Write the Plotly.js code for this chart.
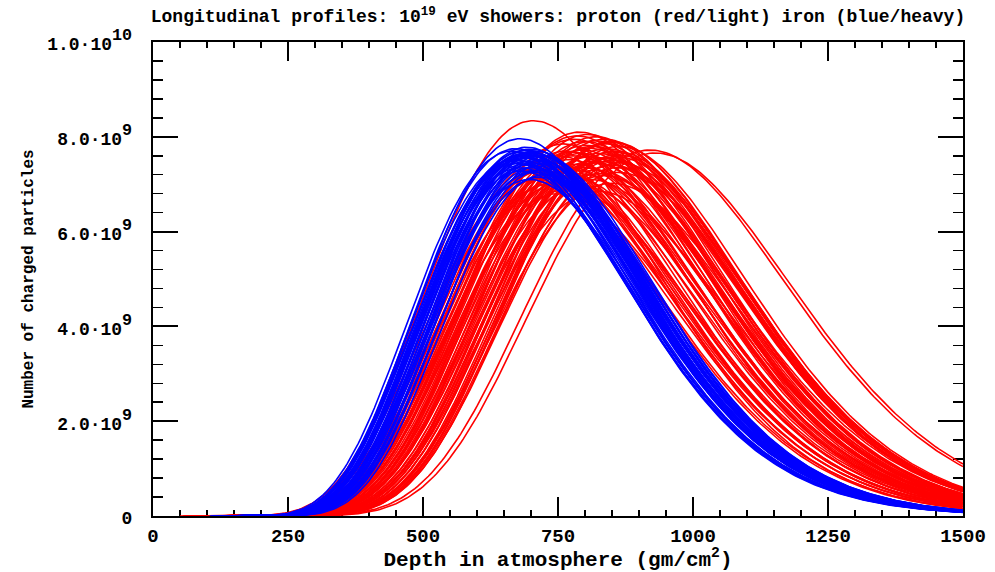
<!DOCTYPE html>
<html>
<head>
<meta charset="utf-8">
<script src="https://cdn.plot.ly/plotly-3.0.1.min.js"></script>
<style>
  html, body { margin: 0; padding: 0; background: #ffffff; }
  #chart { width: 995px; height: 572px; }
</style>
</head>
<body>
<div id="chart"></div>
<script>
// ---- Data (per-shower Gaisser-Hillas parameters) ----
// Depth of shower maximum (g/cm^2), size at maximum (units of 1e9 particles),
// and first-interaction depth (g/cm^2), where each profile starts.
const protonXmax = [704, 920, 930, 790, 805, 820, 780, 835, 800, 850,
                    760, 815, 862, 840, 795, 856, 775, 825, 860, 750,
                    810, 845, 770, 852, 830, 740, 785, 850, 765, 800,
                    730, 820, 755, 862, 790, 745, 835, 775, 720, 810,
                    760, 850, 735, 795, 770, 825, 750, 780, 815, 858,
                    842, 808, 725, 860, 785, 712, 864, 848, 765, 826,
                    738, 792, 818, 756, 832, 803, 778, 852, 746, 812];
const protonNmax = [8.34, 7.72, 7.66, 8.10, 8.05, 8.00, 7.95, 7.95, 7.90, 7.88,
                    7.85, 7.80, 7.80, 7.75, 7.72, 7.70, 7.68, 7.65, 7.62, 7.60,
                    7.58, 7.55, 7.52, 7.50, 7.48, 7.45, 7.42, 7.40, 7.38, 7.35,
                    7.32, 7.30, 7.28, 7.25, 7.22, 7.20, 7.18, 7.15, 7.12, 7.10,
                    7.05, 7.02, 7.00, 6.95, 6.90, 6.85, 6.80, 7.60, 7.45, 7.58,
                    7.85, 7.76, 7.50, 7.35, 8.02, 7.25, 7.45, 7.90, 7.70, 7.22,
                    7.40, 7.65, 7.92, 7.15, 7.55, 7.82, 7.30, 7.68, 7.05, 7.48];
const protonX0   = [60, 90, 100, 80, 90, 95, 75, 100, 85, 110,
                    70, 95, 130, 105, 85, 125, 80, 100, 130, 70,
                    90, 108, 75, 125, 100, 65, 82, 120, 74, 88,
                    62, 96, 72, 132, 84, 68, 102, 78, 55, 92,
                    76, 110, 64, 86, 80, 98, 70, 82, 94, 128,
                    106, 90, 58, 130, 80, 50, 135, 115, 74, 100,
                    66, 86, 96, 72, 104, 90, 80, 118, 68, 94];

const ironXmax = [680, 665, 672, 690, 700, 684, 695, 710, 676, 705,
                  688, 715, 698, 720, 692, 708, 682, 725, 670, 702,
                  694, 712, 686, 678, 718, 700, 690, 706, 674, 696,
                  716, 683, 709, 697, 688, 704, 722, 680, 692, 711];
const ironNmax = [7.96, 7.70, 7.75, 7.72, 7.68, 7.60, 7.55, 7.62, 7.50, 7.45,
                  7.42, 7.50, 7.35, 7.30, 7.66, 7.70, 7.28, 7.20, 7.52, 7.58,
                  7.40, 7.38, 7.64, 7.58, 7.60, 7.74, 7.48, 7.25, 7.44, 7.62,
                  7.15, 7.68, 7.52, 7.10, 7.56, 7.66, 7.42, 7.35, 7.78, 7.30];
const ironX0   = [110, 105, 115, 120, 125, 118, 130, 140, 112, 135,
                  122, 145, 128, 150, 120, 138, 116, 160, 108, 132,
                  126, 142, 119, 114, 148, 130, 124, 136, 112, 128,
                  150, 117, 140, 134, 121, 133, 155, 115, 123, 144];

// Axis tick labels
const xTickVals = [0, 250, 500, 750, 1000, 1250, 1500];
const yTickVals = [0, 2e9, 4e9, 6e9, 8e9, 1e10];
const BASE = s => '<span style="font-size:18px">' + s + '</span>';
const yTickText = [BASE('0'), BASE('2.0\u00b710') + '<sup>9</sup>', BASE('4.0\u00b710') + '<sup>9</sup>',
                   BASE('6.0\u00b710') + '<sup>9</sup>', BASE('8.0\u00b710') + '<sup>9</sup>',
                   BASE('1.0\u00b710') + '<sup>10</sup>'];

// ---- Gaisser-Hillas longitudinal profile ----
const LAMBDA = 70;      // g/cm^2
const STEP = 5;         // sampling of depth
const XEND = 1500;

function profile(xmax, nmax, x0) {
  const xs = [], ys = [];
  const a = (xmax - x0) / LAMBDA;
  for (let x = x0; x <= XEND + 1e-9; x += STEP) {
    const t = (x - x0) / (xmax - x0);
    const n = t <= 0 ? 0 : nmax * 1e9 * Math.pow(t, a) * Math.exp((xmax - x) / LAMBDA);
    xs.push(x); ys.push(n);
  }
  return {xs, ys};
}

const traces = [];
const FONT = 'Liberation Mono, Courier New, monospace';
function addSet(xm, nm, x0, color) {
  for (let i = 0; i < xm.length; i++) {
    const p = profile(xm[i], nm[i], x0[i]);
    traces.push({
      type: 'scatter', mode: 'lines', x: p.xs, y: p.ys,
      line: {color: color, width: 1.6}, hoverinfo: 'skip', showlegend: false
    });
  }
}
addSet(protonXmax, protonNmax, protonX0, '#ff0000');
addSet(ironXmax, ironNmax, ironX0, '#0000ff');

const layout = {
  width: 995, height: 572,
  margin: {l: 153, r: 32, t: 42, b: 56, pad: 0},
  paper_bgcolor: '#ffffff', plot_bgcolor: '#ffffff',
  showlegend: false, hovermode: false,
  title: {
    text: '<b>Longitudinal profiles: 10<sup>19</sup> eV showers: proton (red/light) iron (blue/heavy)</b>',
    font: {family: FONT, size: 18, color: '#000000'},
    x: 0.5, xref: 'paper', xanchor: 'center',
    y: 1 - 16 / 572, yref: 'container', yanchor: 'middle'
  },
  xaxis: {
    range: [0, 1500], tickmode: 'array', tickvals: xTickVals,
    ticks: 'inside', ticklen: 19, tickwidth: 2, tickcolor: '#000000',
    minor: {ticks: 'inside', ticklen: 6, tickwidth: 1.5, tickcolor: '#000000', tickmode: 'linear', tick0: 0, dtick: 50},
    showline: true, linecolor: '#000000', linewidth: 2, mirror: 'ticks',
    showgrid: false, zeroline: false, layer: 'below traces',
    tickfont: {family: FONT, size: 19, color: '#000000', weight: 'bold'},
    ticklabelstandoff: 1,
    title: {text: '<b>Depth in atmosphere (gm/cm<sup>2</sup>)</b>',
            font: {family: FONT, size: 21, color: '#000000'}, standoff: 4},
    automargin: false
  },
  yaxis: {
    range: [0, 1e10], tickmode: 'array', tickvals: yTickVals, ticktext: yTickText,
    ticks: 'inside', ticklen: 25, tickwidth: 2, tickcolor: '#000000',
    minor: {ticks: 'inside', ticklen: 10, tickwidth: 1.5, tickcolor: '#000000', tickmode: 'linear', tick0: 0, dtick: 4e8},
    showline: true, linecolor: '#000000', linewidth: 2, mirror: 'ticks',
    showgrid: false, zeroline: false, layer: 'below traces',
    tickfont: {family: FONT, size: 24, color: '#000000', weight: 'bold'},
    ticklabelstandoff: 14,
    title: {text: '<b>Number of charged particles</b>',
            font: {family: FONT, size: 16, color: '#000000'}, standoff: 10},
    automargin: false
  }
};

Plotly.newPlot('chart', traces, layout, {staticPlot: true, displayModeBar: false});
</script>
</body>
</html>
